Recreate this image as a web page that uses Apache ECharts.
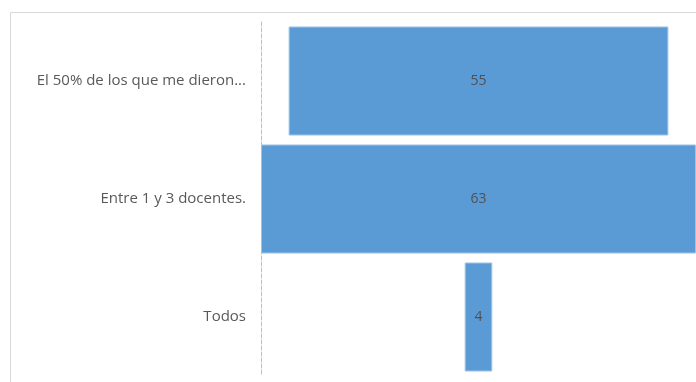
<!DOCTYPE html>
<html>
<head>
<meta charset="utf-8">
<script src="https://cdn.jsdelivr.net/npm/echarts@6/dist/echarts.min.js"></script>
<style>
  html, body { margin: 0; padding: 0; background: #ffffff; }
  #chart { width: 696px; height: 382px; }
</style>
</head>
<body>
<div id="chart"></div>
<script>
// Funnel stages, top to bottom
const categories = ['El 50% de los que me dieron...', 'Entre 1 y 3 docentes.', 'Todos'];
const values = [55, 63, 4];

// Widest stage sets the axis span; each bar is centred by an invisible spacer
const maxValue = Math.max(...values);
const spacers = values.map(v => (maxValue - v) / 2);

const chart = echarts.init(document.getElementById('chart'));
chart.setOption({
  animation: false,
  backgroundColor: '#ffffff',
  textStyle: { fontFamily: '"Open Sans", "Noto Sans", sans-serif' },
  graphic: [{
    type: 'rect',
    shape: { x: 10.5, y: 12.5, width: 720, height: 400 },
    style: { fill: 'none', stroke: '#d9d9d9', lineWidth: 1 },
    silent: true,
    z: -1
  }],
  grid: { left: 261, right: -1, top: 22, bottom: 6, containLabel: false },
  xAxis: {
    type: 'value',
    min: 0,
    max: maxValue,
    show: false
  },
  yAxis: {
    type: 'category',
    data: categories,
    inverse: true,
    axisLine: { show: true, lineStyle: { color: '#bfbfbf', type: 'dashed', width: 1 } },
    axisTick: { show: false },
    axisLabel: { color: '#595959', fontSize: 15, margin: 15 }
  },
  series: [
    {
      type: 'bar',
      stack: 'funnel',
      data: spacers,
      barWidth: 109,
      itemStyle: { color: 'transparent' },
      silent: true
    },
    {
      type: 'bar',
      stack: 'funnel',
      data: values,
      barWidth: 109,
      itemStyle: { color: '#5b9bd5', borderColor: '#9dc3e6', borderWidth: 1 },
      label: {
        show: true,
        position: 'inside',
        color: '#505050',
        fontSize: 14
      }
    }
  ]
});
</script>
</body>
</html>
